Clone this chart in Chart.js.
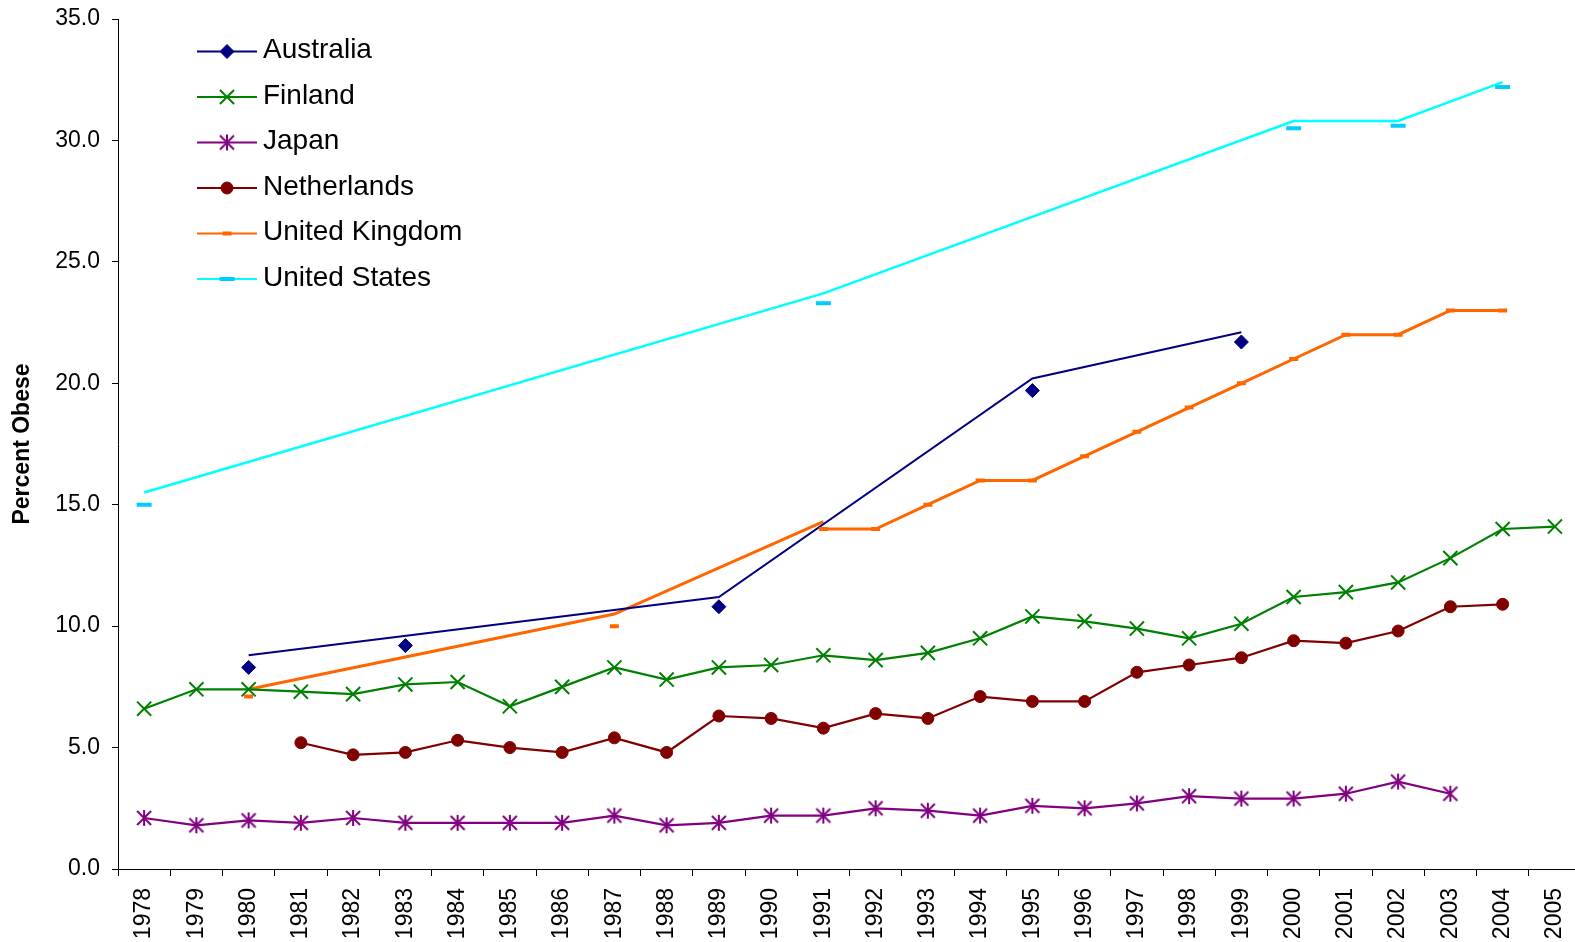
<!DOCTYPE html>
<html>
<head>
<meta charset="utf-8">
<title>Percent Obese</title>
<script src="https://cdn.jsdelivr.net/npm/chart.js@4.4.1/dist/chart.umd.min.js"></script>
<style>
    html, body { margin: 0; padding: 0; background: #fff; overflow: hidden; }
    #wrap { width: 1600px; height: 942px; }
</style>
</head>
<body>
<div id="wrap"><canvas id="obesity" width="1600" height="942"></canvas></div>
<script>
const FONT = '"Liberation Sans", Arial, Helvetica, sans-serif';

const years = ['1978', '1979', '1980', '1981', '1982', '1983', '1984', '1985', '1986', '1987',
    '1988', '1989', '1990', '1991', '1992', '1993', '1994', '1995', '1996', '1997',
    '1998', '1999', '2000', '2001', '2002', '2003', '2004', '2005'];

const yTicks = [0, 5, 10, 15, 20, 25, 30, 35];

// survey points (null = no survey that year)
const australia = [null, null, 8.3, null, null, 9.2, null, null, null, null, null, 10.8, null, null,
    null, null, null, 19.7, null, null, null, 21.7, null, null, null, null, null, null];
const finland = [6.6, 7.4, 7.4, 7.3, 7.2, 7.6, 7.7, 6.7, 7.5, 8.3, 7.8, 8.3, 8.4, 8.8,
    8.6, 8.9, 9.5, 10.4, 10.2, 9.9, 9.5, 10.1, 11.2, 11.4, 11.8, 12.8, 14.0, 14.1];
const japan = [2.1, 1.8, 2.0, 1.9, 2.1, 1.9, 1.9, 1.9, 1.9, 2.2, 1.8, 1.9, 2.2, 2.2,
    2.5, 2.4, 2.2, 2.6, 2.5, 2.7, 3.0, 2.9, 2.9, 3.1, 3.6, 3.1, null, null];
const netherlands = [null, null, null, 5.2, 4.7, 4.8, 5.3, 5.0, 4.8, 5.4, 4.8, 6.3, 6.2, 5.8,
    6.4, 6.2, 7.1, 6.9, 6.9, 8.1, 8.4, 8.7, 9.4, 9.3, 9.8, 10.8, 10.9, null];
const unitedKingdom = [null, null, 7.1, null, null, null, null, null, null, 10.0, null, null, null, 14.0,
    14.0, 15.0, 16.0, 16.0, 17.0, 18.0, 19.0, 20.0, 21.0, 22.0, 22.0, 23.0, 23.0, null];
const unitedStates = [15.0, null, null, null, null, null, null, null, null, null, null, null, null, 23.3,
    null, null, null, null, null, null, null, null, 30.5, null, 30.6, null, 32.2, null];

// connecting lines drawn for the sparse series
const australiaLine = [null, null, 8.8, null, null, null, null, null, null, null, null, 11.2, null, null,
    null, null, null, 20.2, null, null, null, 22.1, null, null, null, null, null, null];
const unitedKingdomLine = [null, null, 7.4, null, null, null, null, null, null, 10.5, null, null, null, 14.3,
    null, null, null, null, null, null, null, null, null, null, null, null, null, null];
const unitedStatesLine = [15.5, null, null, null, null, null, null, null, null, null, null, null, null, 23.7,
    null, null, null, null, null, null, null, null, 30.8, null, 30.8, null, 32.4, null];

// asterisk marker (X with a vertical bar)
function asterisk(color) {
    const c = document.createElement('canvas');
    c.width = 18;
    c.height = 18;
    const g = c.getContext('2d');
    g.strokeStyle = color;
    g.lineWidth = 2;
    g.beginPath();
    g.moveTo(2, 2); g.lineTo(16, 16);
    g.moveTo(16, 2); g.lineTo(2, 16);
    g.moveTo(9, 1); g.lineTo(9, 17);
    g.stroke();
    return c;
}

const series = [
    { name: 'Australia', data: australia, line: '#000080', marker: '#000080', lineWidth: 2,
      pointStyle: 'rectRot', radius: 7, markerWidth: 1, showLine: false },
    { name: 'Finland', data: finland, line: '#008000', marker: '#008000', lineWidth: 2.2,
      pointStyle: 'crossRot', radius: 10, markerWidth: 2, showLine: true },
    { name: 'Japan', data: japan, line: '#800080', marker: '#800080', lineWidth: 2.2,
      pointStyle: asterisk('#800080'), radius: 8, markerWidth: 2, showLine: true },
    { name: 'Netherlands', data: netherlands, line: '#800000', marker: '#800000', lineWidth: 2.2,
      pointStyle: 'circle', radius: 6, markerWidth: 1, showLine: true },
    { name: 'United Kingdom', data: unitedKingdom, line: '#FF6600', marker: '#FF6600', lineWidth: 3,
      pointStyle: 'line', radius: 4.5, markerWidth: 4, showLine: true },
    { name: 'United States', data: unitedStates, line: '#00FFFF', marker: '#00CCFF', lineWidth: 2,
      pointStyle: 'line', radius: 7.5, markerWidth: 4, showLine: false }
];

const datasets = series.map(s => ({
    label: s.name,
    data: s.data,
    showLine: s.showLine,
    spanGaps: false,
    borderColor: s.line,
    borderWidth: s.lineWidth,
    tension: 0,
    pointStyle: s.pointStyle,
    pointRadius: s.radius,
    pointBackgroundColor: s.marker,
    pointBorderColor: s.marker,
    pointBorderWidth: s.markerWidth
}));

function lineOnly(label, data, color, width) {
    return {
        label: label,
        data: data,
        spanGaps: true,
        borderColor: color,
        borderWidth: width,
        tension: 0,
        pointRadius: 0
    };
}

datasets.push(lineOnly('Australia line', australiaLine, '#000080', 2));
datasets.push(lineOnly('United Kingdom line', unitedKingdomLine, '#FF6600', 3));
datasets.push(lineOnly('United States line', unitedStatesLine, '#00FFFF', 2.5));

// legend in the upper left corner of the plot
const insetLegend = {
    id: 'insetLegend',
    afterDraw(chart) {
        const ctx = chart.ctx;
        ctx.save();
        series.forEach((s, i) => {
            const y = 51.5 + i * 45.5;
            ctx.strokeStyle = s.line;
            ctx.lineWidth = 2;
            ctx.beginPath();
            ctx.moveTo(197, y);
            ctx.lineTo(257, y);
            ctx.stroke();

            ctx.fillStyle = s.marker;
            ctx.strokeStyle = s.marker;
            ctx.lineWidth = s.markerWidth;
            Chart.helpers.drawPoint(ctx, {
                pointStyle: s.pointStyle,
                radius: s.radius,
                borderWidth: s.markerWidth,
                rotation: 0
            }, 227, y);

            ctx.fillStyle = '#000';
            ctx.font = '28px ' + FONT;
            ctx.textAlign = 'left';
            ctx.textBaseline = 'alphabetic';
            ctx.fillText(s.name, 263, y + 6.5);
        });
        ctx.restore();
    }
};

Chart.defaults.font.family = FONT;
Chart.defaults.color = '#000';

new Chart(document.getElementById('obesity'), {
    type: 'line',
    data: {
        labels: years,
        datasets: datasets
    },
    options: {
        responsive: false,
        animation: false,
        devicePixelRatio: 1,
        events: [],
        layout: {
            padding: { top: 19, right: 19, bottom: 0, left: 0 }
        },
        plugins: {
            legend: { display: false },
            tooltip: { enabled: false }
        },
        scales: {
            x: {
                type: 'category',
                offset: true,
                afterFit: scale => { scale.height = 73; },
                grid: {
                    offset: true,
                    drawOnChartArea: false,
                    drawTicks: true,
                    tickLength: 7,
                    color: '#000',
                    lineWidth: 1
                },
                border: { display: true, color: '#000', width: 1 },
                ticks: {
                    autoSkip: false,
                    minRotation: 90,
                    maxRotation: 90,
                    padding: 12,
                    color: '#000',
                    font: { size: 23 }
                }
            },
            y: {
                min: 0,
                max: 35,
                afterFit: scale => {
                    scale.width = 118;
                    scale.paddingTop = 0;
                    scale.paddingBottom = 0;
                },
                afterBuildTicks: scale => {
                    scale.ticks = yTicks.map(v => ({ value: v }));
                },
                grid: {
                    drawOnChartArea: false,
                    drawTicks: true,
                    tickLength: 6,
                    color: '#000',
                    lineWidth: 1
                },
                border: { display: true, color: '#000', width: 1 },
                ticks: {
                    padding: 12,
                    color: '#000',
                    font: { size: 23 },
                    callback: v => Number(v).toFixed(1)
                },
                title: {
                    display: true,
                    text: 'Percent Obese',
                    color: '#000',
                    font: { size: 23, weight: 'bold' },
                    padding: { top: 9, bottom: 0 }
                }
            }
        }
    },
    plugins: [insetLegend]
});
</script>
</body>
</html>
